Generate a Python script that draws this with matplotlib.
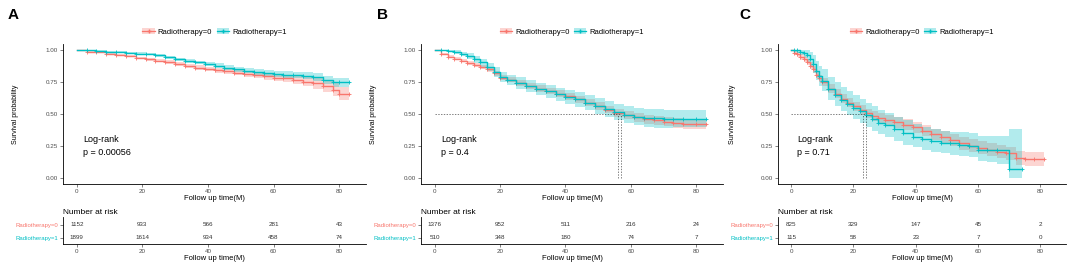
import matplotlib
matplotlib.use("Agg")
import matplotlib.pyplot as plt
from matplotlib.lines import Line2D
from matplotlib.patches import Patch

plt.rcParams['font.family'] = ['Liberation Sans', 'DejaVu Sans']

RED = "#F8766D"
TEAL = "#00BFC4"
groups = ["Radiotherapy=0", "Radiotherapy=1"]
risk_times = [0, 20, 40, 60, 80]

# ---- panel A ----
a_t = [0, 3, 6, 9, 12, 15, 18, 21, 24, 27, 30, 33, 36, 39, 42, 45, 48, 51, 54, 57,
       60, 63, 66, 69, 72, 75, 78, 80, 83]
a_s0 = [1.00, 0.99, 0.985, 0.975, 0.965, 0.955, 0.94, 0.93, 0.92, 0.91,
        0.895, 0.88, 0.865, 0.855, 0.845, 0.835, 0.825, 0.815, 0.805, 0.795,
        0.785, 0.78, 0.765, 0.755, 0.74, 0.72, 0.69, 0.66, 0.66]
a_lo0 = [1.00, 0.985, 0.978, 0.967, 0.956, 0.945, 0.929, 0.918, 0.907, 0.896,
         0.88, 0.864, 0.848, 0.837, 0.826, 0.815, 0.804, 0.793, 0.782, 0.77,
         0.758, 0.75, 0.733, 0.72, 0.70, 0.675, 0.64, 0.61, 0.61]
a_hi0 = [1.00, 0.995, 0.992, 0.983, 0.974, 0.965, 0.951, 0.942, 0.933, 0.924,
         0.91, 0.896, 0.882, 0.873, 0.864, 0.855, 0.846, 0.837, 0.828, 0.82,
         0.812, 0.81, 0.797, 0.79, 0.78, 0.765, 0.74, 0.71, 0.71]
a_s1 = [1.00, 1.00, 0.995, 0.99, 0.985, 0.98, 0.975, 0.97, 0.96, 0.945,
        0.93, 0.915, 0.905, 0.89, 0.88, 0.865, 0.85, 0.84, 0.83, 0.82,
        0.815, 0.81, 0.805, 0.80, 0.79, 0.77, 0.75, 0.75, 0.75]
a_lo1 = [1.00, 0.997, 0.99, 0.984, 0.978, 0.972, 0.966, 0.96, 0.949, 0.933,
         0.917, 0.901, 0.89, 0.874, 0.863, 0.847, 0.831, 0.82, 0.809, 0.798,
         0.792, 0.786, 0.779, 0.772, 0.76, 0.738, 0.715, 0.715, 0.715]
a_hi1 = [1.00, 1.00, 1.00, 0.996, 0.992, 0.988, 0.984, 0.98, 0.971, 0.957,
         0.943, 0.929, 0.92, 0.906, 0.897, 0.883, 0.869, 0.86, 0.851, 0.842,
         0.838, 0.834, 0.831, 0.828, 0.82, 0.80, 0.785, 0.785, 0.785]
a_risk0 = [1152, 933, 566, 281, 43]
a_risk1 = [1899, 1614, 934, 458, 74]
a_p = "0.00056"
a_median = []

# ---- panel B ----
b_t = [0, 2, 4, 6, 8, 10, 12, 14, 16, 18, 20, 22,
       25, 28, 31, 34, 37, 40, 43, 46, 49, 52, 55, 58, 61, 64, 67, 70, 73, 76,
       80, 83]
b_s0 = [1.00, 0.97, 0.95, 0.935, 0.92, 0.90, 0.885, 0.87, 0.85, 0.82, 0.785, 0.77,
        0.745, 0.72, 0.70, 0.68, 0.66, 0.64, 0.615, 0.59, 0.565, 0.535, 0.505, 0.49,
        0.475, 0.46, 0.45, 0.44, 0.43, 0.425, 0.42, 0.42]
b_lo0 = [1.00, 0.96, 0.938, 0.922, 0.906, 0.885, 0.869, 0.853, 0.832, 0.801, 0.765, 0.749,
         0.723, 0.697, 0.676, 0.655, 0.634, 0.613, 0.587, 0.561, 0.535, 0.504, 0.473, 0.457,
         0.441, 0.425, 0.414, 0.403, 0.392, 0.386, 0.38, 0.38]
b_hi0 = [1.00, 0.98, 0.962, 0.948, 0.934, 0.915, 0.901, 0.887, 0.868, 0.839, 0.805, 0.791,
         0.767, 0.743, 0.724, 0.705, 0.686, 0.667, 0.643, 0.619, 0.595, 0.566, 0.537, 0.523,
         0.509, 0.495, 0.486, 0.477, 0.468, 0.464, 0.46, 0.46]
b_s1 = [1.00, 1.00, 0.995, 0.99, 0.975, 0.955, 0.93, 0.905, 0.87, 0.83, 0.79, 0.77,
        0.745, 0.72, 0.70, 0.68, 0.655, 0.635, 0.615, 0.59, 0.565, 0.54, 0.515, 0.495,
        0.48, 0.47, 0.465, 0.46, 0.46, 0.46, 0.46, 0.46]
b_lo1 = [1.00, 0.995, 0.985, 0.975, 0.955, 0.93, 0.90, 0.872, 0.835, 0.792, 0.75, 0.728,
         0.70, 0.673, 0.651, 0.629, 0.602, 0.58, 0.558, 0.53, 0.503, 0.476, 0.449, 0.427,
         0.41, 0.398, 0.392, 0.39, 0.395, 0.395, 0.395, 0.395]
b_hi1 = [1.00, 1.00, 1.00, 1.00, 0.99, 0.978, 0.958, 0.935, 0.904, 0.867, 0.829, 0.81,
         0.788, 0.765, 0.747, 0.729, 0.706, 0.688, 0.67, 0.648, 0.625, 0.602, 0.579, 0.561,
         0.548, 0.54, 0.536, 0.53, 0.528, 0.528, 0.528, 0.528]
b_risk0 = [1376, 952, 511, 216, 24]
b_risk1 = [510, 348, 180, 74, 7]
b_p = "0.4"
b_median = [56, 57]

# ---- panel C ----
c_t0 = [0, 1, 2, 3, 4, 5, 6, 7, 8, 9, 10, 12, 14, 16, 18, 20, 22, 24, 26, 28, 30,
        33, 36, 39, 42, 45, 48, 51, 54, 57, 60, 63, 66, 69, 72, 75, 78, 81]
c_s0 = [1.00, 0.98, 0.97, 0.95, 0.93, 0.91, 0.88, 0.85, 0.81, 0.78, 0.75,
        0.70, 0.66, 0.62, 0.59, 0.56, 0.53, 0.505, 0.485, 0.47, 0.455,
        0.435, 0.415, 0.395, 0.37, 0.34, 0.32, 0.295, 0.27, 0.25, 0.235, 0.22,
        0.205, 0.19, 0.155, 0.15, 0.15, 0.15]
c_lo0 = [1.00, 0.965, 0.95, 0.928, 0.906, 0.884, 0.853, 0.822, 0.781, 0.75, 0.719,
         0.668, 0.627, 0.586, 0.555, 0.524, 0.493, 0.467, 0.446, 0.43, 0.414,
         0.393, 0.372, 0.351, 0.325, 0.294, 0.273, 0.247, 0.221, 0.2, 0.184, 0.168,
         0.152, 0.136, 0.10, 0.095, 0.095, 0.095]
c_hi0 = [1.00, 0.995, 0.99, 0.972, 0.954, 0.936, 0.907, 0.878, 0.839, 0.81, 0.781,
         0.732, 0.693, 0.654, 0.625, 0.596, 0.567, 0.543, 0.524, 0.51, 0.496,
         0.477, 0.458, 0.439, 0.415, 0.386, 0.367, 0.343, 0.319, 0.30, 0.286, 0.272,
         0.258, 0.244, 0.21, 0.205, 0.205, 0.205]
c_t1 = [0, 1, 2, 3, 4, 5, 6, 7, 8, 9, 10, 12, 14, 16, 18, 20, 22, 24, 26, 28, 30,
        33, 36, 39, 42, 45, 48, 51, 54, 57, 60, 63, 66, 70, 74]
c_s1 = [1.00, 1.00, 1.00, 0.99, 0.98, 0.96, 0.93, 0.89, 0.84, 0.80, 0.76,
        0.70, 0.65, 0.61, 0.58, 0.55, 0.52, 0.49, 0.46, 0.43, 0.41,
        0.38, 0.35, 0.32, 0.30, 0.285, 0.275, 0.27, 0.26, 0.25, 0.22, 0.22, 0.22, 0.07, 0.07]
c_lo1 = [1.00, 0.99, 0.98, 0.96, 0.94, 0.91, 0.87, 0.82, 0.77, 0.72, 0.68,
         0.61, 0.56, 0.52, 0.49, 0.46, 0.43, 0.40, 0.37, 0.34, 0.32,
         0.29, 0.26, 0.24, 0.22, 0.20, 0.19, 0.18, 0.17, 0.16, 0.13, 0.12, 0.11, 0.00, 0.00]
c_hi1 = [1.00, 1.00, 1.00, 1.00, 1.00, 1.00, 0.99, 0.96, 0.92, 0.88, 0.85,
         0.79, 0.75, 0.71, 0.68, 0.65, 0.62, 0.59, 0.56, 0.53, 0.51,
         0.48, 0.45, 0.42, 0.40, 0.38, 0.37, 0.36, 0.36, 0.35, 0.33, 0.33, 0.33, 0.38, 0.38]
c_risk0 = [825, 329, 147, 45, 2]
c_risk1 = [115, 58, 23, 7, 0]
c_p = "0.71"
c_median = [23, 24]

fig = plt.figure(figsize=(10.84, 2.69), dpi=100)
W, H = 1084, 269
TXT = "#4D4D4D"


def draw_panel(letter, letter_px, left_px, width_px, t0, s0, lo0, hi0, t1, s1, lo1, hi1,
               risk0, risk1, pval, median):
    ax = fig.add_axes([left_px / W, 1 - 184 / H, width_px / W, 140 / H])
    for t, s, lo, hi, col in [(t0, s0, lo0, hi0, RED), (t1, s1, lo1, hi1, TEAL)]:
        ax.fill_between(t, lo, hi, step="post", color=col, alpha=0.3, lw=0)
        ax.step(t, s, where="post", color=col, lw=1.0)
        ax.plot(t[1:], s[1:], ls="none", marker="+", color=col, ms=3, mew=0.6)
    if median:
        ax.plot([0, max(median)], [0.5, 0.5], color="k", lw=0.5, ls=(0, (2, 2)), alpha=0.7)
        for m in median:
            ax.plot([m, m], [0, 0.5], color="k", lw=0.5, ls=(0, (2, 2)), alpha=0.7)
    ax.set_xlim(-4.2, 88.2)
    ax.set_ylim(-0.05, 1.05)
    ax.set_xticks(risk_times)
    ax.set_yticks([0, 0.25, 0.5, 0.75, 1.0])
    ax.set_yticklabels(["0.00", "0.25", "0.50", "0.75", "1.00"])
    for sp in ["top", "right"]:
        ax.spines[sp].set_visible(False)
    for sp in ["left", "bottom"]:
        ax.spines[sp].set_linewidth(0.6)
    ax.tick_params(labelsize=4.5, length=2, width=0.5, pad=1.5, colors=TXT, labelcolor=TXT)
    ax.set_xlabel("Follow up time(M)", fontsize=5.5, labelpad=1)
    ax.set_ylabel("Survival probability", fontsize=5)
    ax.yaxis.set_label_coords(-0.145, 0.5)
    ax.text(2, 0.25, "Log-rank\np = " + pval, fontsize=6.5, va="center", linespacing=1.5)

    handles = [(Patch(facecolor=RED, alpha=0.3, lw=0), Line2D([], [], color=RED, marker="+", lw=0.9, ms=3)),
               (Patch(facecolor=TEAL, alpha=0.3, lw=0), Line2D([], [], color=TEAL, marker="+", lw=0.9, ms=3))]
    fig.legend(handles, groups, loc="center", ncol=2, frameon=False, fontsize=5.5,
               bbox_to_anchor=((left_px + width_px / 2) / W, 1 - 32 / H),
               handlelength=1.6, handletextpad=0.4, columnspacing=0.6)
    fig.text(letter_px / W, 1 - 15 / H, letter, fontsize=11, fontweight="bold", va="center")

    tb = fig.add_axes([left_px / W, 1 - 244 / H, width_px / W, 27 / H])
    for x, n0, n1 in zip(risk_times, risk0, risk1):
        tb.text(x, 1, str(n0), fontsize=4.5, ha="center", va="center", color="#333333")
        tb.text(x, 0, str(n1), fontsize=4.5, ha="center", va="center", color="#333333")
    tb.set_xlim(-4.2, 88.2)
    tb.set_ylim(-0.5, 1.63)
    tb.set_xticks(risk_times)
    tb.set_yticks([1, 0])
    tb.set_yticklabels(groups)
    for sp in ["top", "right"]:
        tb.spines[sp].set_visible(False)
    for sp in ["left", "bottom"]:
        tb.spines[sp].set_linewidth(0.6)
    tb.tick_params(labelsize=4.5, length=2, width=0.5, pad=1.5, colors=TXT)
    for lab, col in zip(tb.get_yticklabels(), [RED, TEAL]):
        lab.set_color(col)
        lab.set_fontsize(4.3)
    tb.set_xlabel("Follow up time(M)", fontsize=5.5, labelpad=1)
    tb.set_title("Number at risk", fontsize=6, loc="left", pad=2, x=0.0)


draw_panel("A", 8, 63, 303, a_t, a_s0, a_lo0, a_hi0, a_t, a_s1, a_lo1, a_hi1,
           a_risk0, a_risk1, a_p, a_median)
draw_panel("B", 377, 421, 302, b_t, b_s0, b_lo0, b_hi0, b_t, b_s1, b_lo1, b_hi1,
           b_risk0, b_risk1, b_p, b_median)
draw_panel("C", 739, 778, 288, c_t0, c_s0, c_lo0, c_hi0, c_t1, c_s1, c_lo1, c_hi1,
           c_risk0, c_risk1, c_p, c_median)

fig.savefig("out.png", dpi=100, facecolor="white")
